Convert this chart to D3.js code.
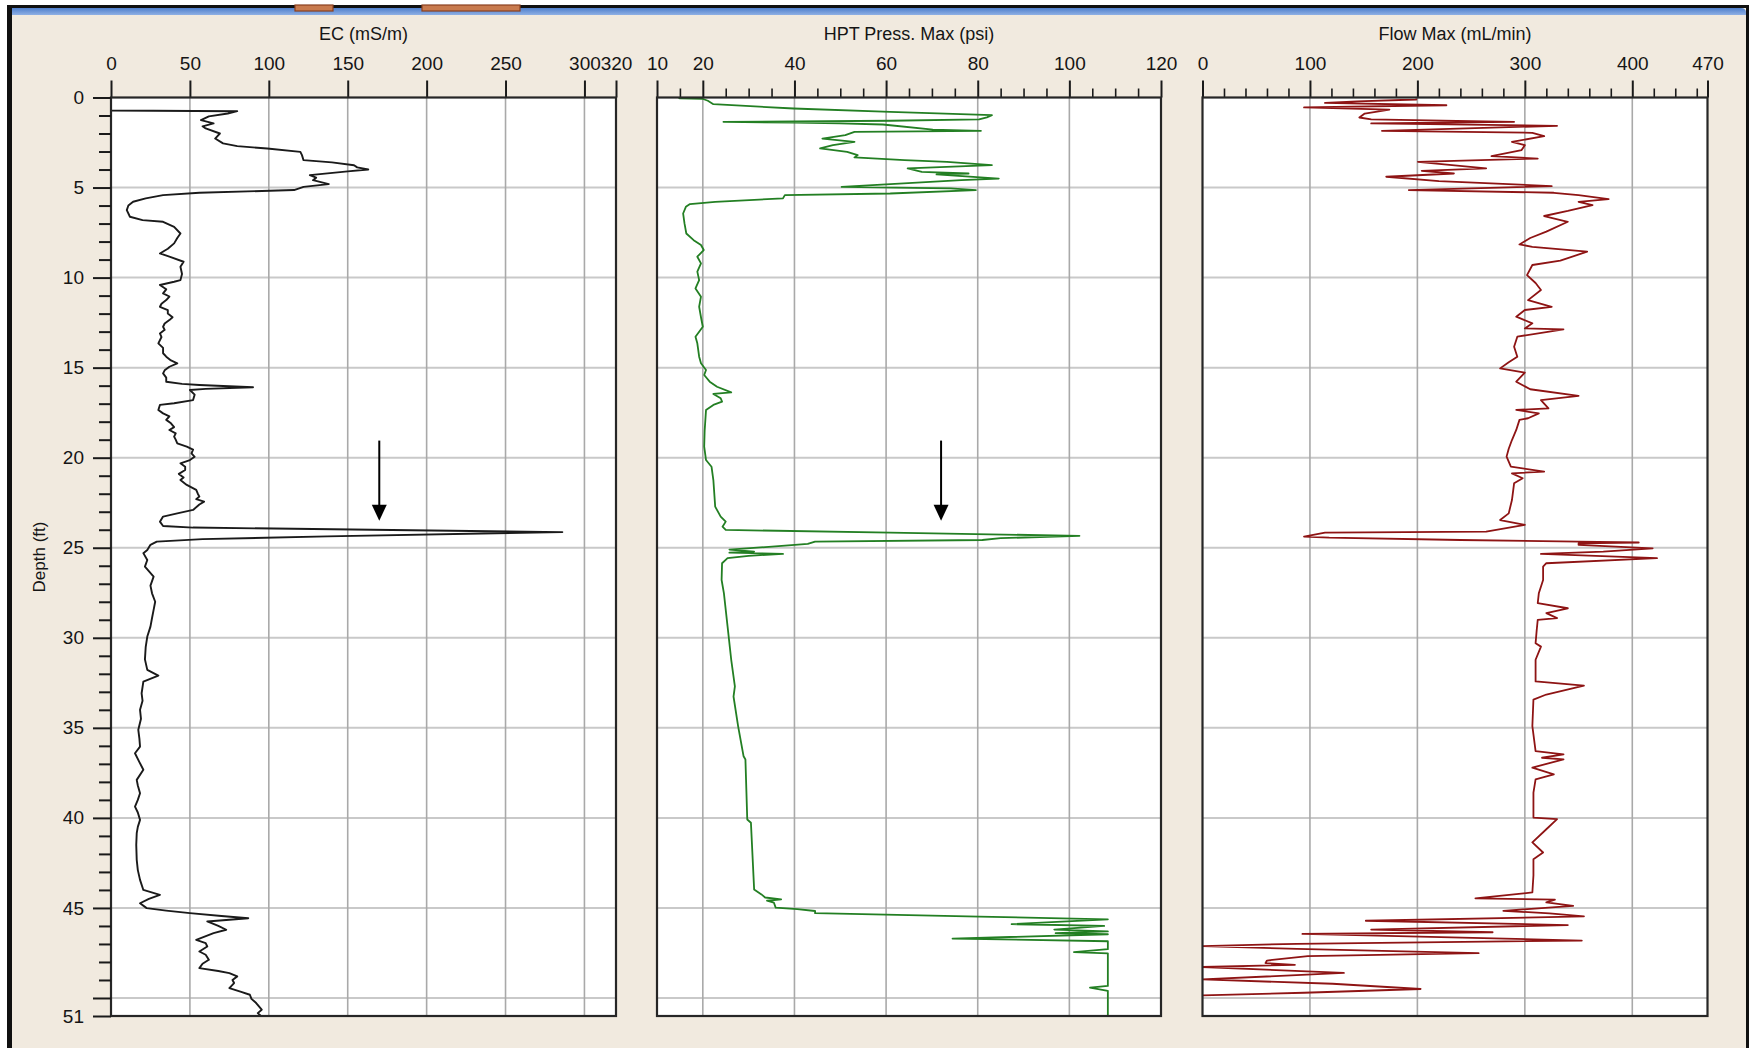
<!DOCTYPE html>
<html>
<head>
<meta charset="utf-8">
<script src="https://cdn.jsdelivr.net/npm/d3@7/dist/d3.min.js"></script>
<style>
  html, body { margin: 0; padding: 0; background: #ffffff; }
  svg { display: block; }
  text { font-family: "Liberation Sans", Arial, sans-serif; fill: #151515; }
</style>
</head>
<body>
<svg id="log" width="1749" height="1048"></svg>
<script>
// ---- Log data: [depth (ft), reading] ----
const depthLabels = [0, 5, 10, 15, 20, 25, 30, 35, 40, 45, 51];
const depthMajorTicks = [0, 5, 10, 15, 20, 25, 30, 35, 40, 45, 50, 51];
const depthGrid = [5, 10, 15, 20, 25, 30, 35, 40, 45, 50];

const ecTitle = "EC (mS/m)";
const ecTicks = [0, 50, 100, 150, 200, 250, 300, 320];
const hptTitle = "HPT Press. Max (psi)";
const hptTicks = [10, 20, 40, 60, 80, 100, 120];
const flowTitle = "Flow Max (mL/min)";
const flowTicks = [0, 100, 200, 300, 400, 470];

const ecLog = [
  [0.00, 0], [0.72, 0], [0.76, 80], [0.89, 74], [1.05, 62], [1.26, 57], [1.44, 65], [1.60, 58],
  [1.72, 60], [2.00, 69], [2.28, 66], [2.55, 71], [2.70, 80], [2.83, 99], [3.02, 120], [3.20, 121],
  [3.48, 122], [3.60, 140], [3.76, 154], [3.88, 156], [4.00, 163], [4.10, 150], [4.31, 126], [4.45, 130],
  [4.59, 128], [4.81, 138], [4.96, 122], [5.14, 116], [5.29, 56], [5.42, 33], [5.60, 22], [5.79, 14],
  [6.00, 11], [6.25, 10], [6.62, 12], [6.81, 20], [6.90, 33], [7.18, 40], [7.55, 44], [7.80, 42],
  [8.10, 40], [8.40, 36], [8.66, 31], [8.84, 37], [9.12, 46], [9.40, 44], [9.80, 45], [10.14, 44],
  [10.23, 40], [10.41, 31], [10.65, 35], [10.88, 33], [11.05, 37], [11.25, 35], [11.45, 32], [11.62, 31],
  [11.80, 36], [11.99, 36], [12.20, 39], [12.36, 37], [12.55, 34], [12.73, 33], [12.90, 34], [13.10, 31],
  [13.30, 32], [13.65, 30], [13.90, 33], [14.20, 33], [14.39, 35], [14.60, 38], [14.76, 42], [14.95, 37],
  [15.15, 34], [15.32, 33], [15.55, 35], [15.78, 35], [15.90, 45], [15.96, 56], [16.09, 90], [16.18, 60],
  [16.24, 50], [16.50, 53], [16.80, 52], [16.98, 40], [17.07, 31], [17.35, 30], [17.54, 33], [17.70, 37],
  [17.90, 35], [18.09, 38], [18.30, 40], [18.46, 37], [18.65, 41], [18.83, 40], [19.00, 41], [19.20, 42],
  [19.39, 48], [19.55, 52], [19.76, 51], [19.95, 53], [20.13, 50], [20.31, 44], [20.50, 47], [20.68, 47],
  [20.90, 43], [21.10, 46], [21.24, 44], [21.51, 48], [21.79, 54], [22.00, 55], [22.16, 56], [22.30, 54],
  [22.44, 59], [22.60, 56], [22.90, 52], [23.09, 42], [23.27, 33], [23.55, 31], [23.79, 33], [23.88, 52],
  [24.13, 286], [24.37, 137], [24.52, 58], [24.66, 29], [24.84, 25], [25.12, 23], [25.30, 20.5], [25.68, 23],
  [26.05, 21.5], [26.60, 27], [27.10, 25], [27.53, 26], [28.00, 28], [28.45, 27], [28.90, 26], [29.38, 25],
  [29.93, 23], [30.50, 22], [31.20, 21.5], [31.78, 23], [32.10, 30], [32.43, 20.5], [33.08, 19.4], [33.50, 20],
  [34.00, 18.4], [34.50, 19], [35.11, 17.3], [35.60, 18], [36.04, 18.4], [36.41, 15.2], [36.90, 18], [37.33, 20.5],
  [37.89, 16.3], [38.20, 17], [38.63, 18.4], [39.00, 17], [39.37, 15.2], [39.70, 17], [40.11, 18.4], [40.50, 17],
  [40.85, 16.3], [41.50, 16], [42.33, 16.3], [42.90, 17], [43.44, 18.4], [44.00, 20.5], [44.27, 31], [44.50, 24],
  [44.74, 18.4], [45.01, 22.6], [45.15, 35], [45.29, 50], [45.45, 70], [45.57, 87], [45.75, 61], [46.00, 68],
  [46.21, 73], [46.40, 65], [46.77, 54], [46.95, 60], [47.14, 61], [47.42, 56], [47.60, 60], [47.88, 62],
  [48.10, 58], [48.34, 56], [48.50, 68], [48.62, 75], [48.80, 80], [49.00, 77], [49.17, 78], [49.45, 75],
  [49.65, 82], [49.82, 88], [50.05, 89], [50.28, 92], [50.65, 95.5], [50.84, 93], [51.00, 95]
];

const hptLog = [
  [0.00, 14.7], [0.05, 15], [0.07, 19.9], [0.18, 21.1], [0.37, 22.3], [0.61, 39.8], [0.80, 60.9], [0.98, 83.1],
  [1.10, 82], [1.22, 80.3], [1.29, 60.9], [1.35, 24.5], [1.40, 40], [1.44, 49.9], [1.50, 59.3], [1.78, 70.2],
  [1.85, 80.7], [1.91, 53.1], [2.09, 51.1], [2.28, 46.1], [2.46, 53.1], [2.65, 48.4], [2.83, 45.6], [3.02, 51.5],
  [3.20, 53.8], [3.33, 53.1], [3.48, 64], [3.57, 73.3], [3.76, 83.1], [3.94, 64.7], [4.13, 67.8], [4.22, 78.0],
  [4.27, 71], [4.50, 84.6], [4.59, 76.4], [4.96, 50.3], [5.05, 74.1], [5.14, 79.6], [5.33, 60.9], [5.42, 37.9],
  [5.60, 37.5], [5.79, 22.7], [5.92, 17.2], [6.07, 16.3], [6.44, 15.7], [6.99, 16.0], [7.55, 16.4], [7.92, 18.0],
  [8.19, 19.6], [8.47, 20.2], [8.84, 18.8], [9.21, 19.6], [9.67, 18.8], [10.14, 19.2], [10.60, 18.4], [11.06, 19.6],
  [11.62, 19.2], [12.20, 19.6], [12.73, 20], [13.28, 18.4], [13.65, 18.8], [14.39, 19.2], [14.76, 19.6], [15.13, 20.7],
  [15.41, 20.3], [15.78, 21.5], [16.06, 23.1], [16.37, 26.2], [16.46, 22.3], [16.70, 23.9], [16.89, 24.2], [17.07, 22.3],
  [17.35, 20.7], [18.50, 20.4], [19.39, 20.3], [20.13, 20.7], [20.50, 21.9], [21.24, 22.3], [22.72, 22.7], [23.27, 23.9],
  [23.55, 25], [23.83, 24.3], [24.01, 25], [24.16, 60.9], [24.34, 102.2], [24.47, 85], [24.57, 81], [24.66, 44.5],
  [24.79, 42.9], [24.94, 35.1], [25.10, 25.8], [25.21, 31.2], [25.27, 25.8], [25.34, 37.5], [25.45, 30], [25.58, 25.4],
  [25.86, 24.2], [26.79, 24.1], [27.52, 24.6], [29.37, 25.4], [31.22, 26.2], [32.70, 27], [33.26, 26.7], [34.90, 27.7],
  [36.58, 28.9], [36.76, 29.3], [40.09, 29.7], [40.27, 30.5], [43.97, 31.2], [44.25, 32.8], [44.42, 33.6], [44.53, 37.1],
  [44.60, 34], [44.70, 35.5], [44.98, 35.9], [45.07, 40.6], [45.17, 44.5], [45.29, 44.5], [45.48, 80.3], [45.63, 108.4],
  [45.90, 87.4], [46.00, 107.6], [46.20, 96.7], [46.30, 108.4], [46.40, 97], [46.46, 108.4], [46.70, 74.5], [46.85, 108.4],
  [47.29, 108.4], [47.45, 101], [47.52, 108.4], [49.33, 108.4], [49.42, 104.5], [49.60, 108.4], [51.00, 108.4]
];

const flowLog = [
  [0.05, 199], [0.11, 199], [0.22, 144], [0.30, 114], [0.43, 227], [0.55, 94.5], [0.67, 174], [0.89, 151],
  [1.11, 146], [1.22, 157], [1.35, 290], [1.44, 157], [1.57, 330], [1.85, 167], [1.96, 307], [2.15, 318],
  [2.46, 288], [2.65, 300], [2.92, 297], [3.26, 269], [3.39, 312], [3.57, 200.5], [3.94, 264], [4.07, 204],
  [4.22, 234], [4.40, 171], [4.64, 220], [4.92, 325], [5.14, 192], [5.29, 327], [5.42, 350], [5.64, 378],
  [5.79, 350], [5.97, 363], [6.30, 340], [6.58, 318], [6.90, 340], [7.45, 320], [7.80, 305], [8.16, 295],
  [8.29, 307], [8.56, 358], [9.06, 333], [9.30, 307], [9.86, 302], [10.30, 310], [10.69, 315], [11.25, 303],
  [11.62, 325], [11.80, 300], [12.17, 292], [12.54, 307], [12.82, 300], [12.87, 336], [13.28, 293], [13.84, 290],
  [14.39, 293], [14.70, 285], [15.04, 277], [15.28, 300], [15.78, 292], [16.20, 305], [16.57, 350], [16.80, 315],
  [17.26, 322], [17.35, 292], [17.54, 313], [17.81, 303], [17.90, 295], [18.46, 292], [19.02, 288], [19.50, 285],
  [19.94, 283], [20.50, 287], [20.77, 318], [20.87, 288], [21.14, 298], [21.42, 290], [22.35, 288], [23.09, 285],
  [23.46, 277], [23.73, 300], [24.10, 264], [24.16, 114], [24.38, 94.5], [24.44, 118], [24.57, 240], [24.66, 350],
  [24.71, 406], [24.76, 350], [24.84, 350], [25.03, 419], [25.21, 373], [25.34, 315], [25.58, 423], [25.86, 320],
  [26.05, 317], [26.79, 317], [27.53, 313], [28.08, 312], [28.36, 340], [28.63, 320], [28.91, 330], [29.00, 312],
  [29.60, 311], [30.30, 310], [30.49, 315], [31.22, 310], [32.42, 310], [32.66, 355], [33.15, 320], [33.43, 308],
  [34.90, 307], [36.29, 310], [36.47, 336], [36.66, 316], [36.75, 336], [37.21, 307], [37.58, 327], [37.86, 310],
  [38.60, 308], [39.98, 308], [40.07, 330], [40.63, 320], [41.36, 307], [41.92, 317], [42.29, 308], [43.20, 308],
  [44.14, 307], [44.47, 254], [44.54, 328], [44.69, 320], [44.88, 345], [45.16, 280], [45.30, 323], [45.47, 355],
  [45.71, 152], [45.95, 340], [46.20, 157], [46.35, 270], [46.44, 93], [46.81, 353], [46.99, 88], [47.12, 0],
  [47.27, 88], [47.51, 257], [47.68, 98], [47.92, 60], [48.06, 58.7], [48.16, 86], [48.28, 0], [48.61, 131.6],
  [48.97, 0], [49.21, 121], [49.50, 203], [49.71, 94.5], [49.85, 0]
];

// Arrow annotations: reading, start depth, tip depth
const ecArrow = [170, 19.05, 23.5];
const hptArrow = [72, 19.05, 23.5];

// ---- Drawing ----
const svg = d3.select("#log");
const W = 1749, H = 1048;

// window chrome
svg.append("rect").attr("x", 0).attr("y", 0).attr("width", W).attr("height", H).attr("fill", "#ffffff");
svg.append("rect").attr("x", 7).attr("y", 5).attr("width", W - 7).attr("height", H - 5).attr("fill", "#101010");
svg.append("rect").attr("x", 12).attr("y", 8).attr("width", W - 15).attr("height", H - 8).attr("fill", "#f1eadf");
const grad = svg.append("defs").append("linearGradient").attr("id", "bar").attr("x1", 0).attr("y1", 0).attr("x2", 0).attr("y2", 1);
grad.append("stop").attr("offset", "0%").attr("stop-color", "#4f7fcc");
grad.append("stop").attr("offset", "100%").attr("stop-color", "#8fb0e4");
svg.append("path").attr("d", `M12,8 H${W - 8} Q${W - 3},8 ${W - 3},13 V15 H12 Z`).attr("fill", "url(#bar)");
[[295, 333], [422, 520]].forEach(([a, b]) => {
  svg.append("rect").attr("x", a).attr("y", 5).attr("width", b - a).attr("height", 6)
    .attr("fill", "#c87a4e").attr("stroke", "#8a4020").attr("stroke-width", 1.2);
});

const y = d3.scaleLinear().domain([0, 51]).range([97.5, 1016]);

const panels = [
  { title: ecTitle, domain: [0, 320], range: [111, 616], majors: ecTicks, minorStep: null,
    data: ecLog, color: "#1a1a1a", width: 1.9, arrow: ecArrow },
  { title: hptTitle, domain: [10, 120], range: [657, 1161], majors: hptTicks, minorStep: 5,
    data: hptLog, color: "#237f23", width: 1.8, arrow: hptArrow },
  { title: flowTitle, domain: [0, 470], range: [1202.5, 1707.5], majors: flowTicks, minorStep: 20,
    data: flowLog, color: "#8e1414", width: 1.8, arrow: null }
];

const defs = svg.select("defs");

panels.forEach((p, i) => {
  const x = d3.scaleLinear().domain(p.domain).range(p.range);
  const [x0, x1] = p.range;
  const [y0, y1] = y.range();
  const g = svg.append("g");

  g.append("rect").attr("x", x0).attr("y", y0).attr("width", x1 - x0).attr("height", y1 - y0).attr("fill", "#ffffff");

  // horizontal depth grid
  g.selectAll(".hg").data(depthGrid).join("line")
    .attr("x1", x0).attr("x2", x1).attr("y1", d => y(d)).attr("y2", d => y(d))
    .attr("stroke", "#c9c9c9").attr("stroke-width", 2);

  // vertical grid at interior majors
  const inner = p.majors.filter(v => v > p.domain[0] && v < p.domain[1]);
  g.selectAll(".vg").data(inner).join("line")
    .attr("x1", d => x(d)).attr("x2", d => x(d)).attr("y1", y0).attr("y2", y1)
    .attr("stroke", "#a9a9a9").attr("stroke-width", 1.6);

  // minor ticks
  if (p.minorStep) {
    const minors = d3.range(p.domain[0], p.domain[1], p.minorStep).filter(v => !p.majors.includes(v));
    const minorAxis = d3.axisTop(x).tickValues(minors).tickSize(9).tickFormat("");
    const ma = g.append("g").attr("transform", `translate(0,${y0})`).call(minorAxis);
    ma.select(".domain").remove();
    ma.selectAll("line").attr("stroke", "#1a1a1a").attr("stroke-width", 1.6);
  }

  // major ticks and labels
  const axis = d3.axisTop(x).tickValues(p.majors).tickSize(17).tickPadding(11).tickFormat(d3.format("d"));
  const ax = g.append("g").attr("transform", `translate(0,${y0})`).call(axis);
  ax.select(".domain").remove();
  ax.selectAll("line").attr("stroke", "#1a1a1a").attr("stroke-width", 2);
  ax.selectAll("text").attr("font-size", 19).attr("fill", "#151515")
    .attr("font-family", "'Liberation Sans', Arial, sans-serif");

  g.append("text").attr("x", (x0 + x1) / 2).attr("y", 40).attr("text-anchor", "middle")
    .attr("font-size", 18).text(p.title);

  // curve
  const clipId = "clip" + i;
  defs.append("clipPath").attr("id", clipId).append("rect")
    .attr("x", x0).attr("y", y0).attr("width", x1 - x0).attr("height", y1 - y0);
  const line = d3.line().x(d => x(d[1])).y(d => y(d[0]));
  g.append("path").datum(p.data).attr("d", line).attr("fill", "none")
    .attr("stroke", p.color).attr("stroke-width", p.width).attr("stroke-linejoin", "round")
    .attr("clip-path", `url(#${clipId})`);

  // frame
  g.append("rect").attr("x", x0).attr("y", y0).attr("width", x1 - x0).attr("height", y1 - y0)
    .attr("fill", "none").attr("stroke", "#262626").attr("stroke-width", 2.2);

  // arrow marker
  if (p.arrow) {
    const [v, d0, d1] = p.arrow;
    const ax0 = x(v), top = y(d0), tip = y(d1);
    g.append("line").attr("x1", ax0).attr("x2", ax0).attr("y1", top).attr("y2", tip - 12)
      .attr("stroke", "#000").attr("stroke-width", 2);
    g.append("path").attr("d", `M${ax0 - 7.5},${tip - 16} L${ax0 + 7.5},${tip - 16} L${ax0},${tip} Z`)
      .attr("fill", "#000");
  }
});

// depth axis on the left of the first track
const depthAxis = d3.axisLeft(y).tickValues(depthMajorTicks).tickSize(18).tickPadding(9)
  .tickFormat(d => depthLabels.includes(d) ? d : "");
const da = svg.append("g").attr("transform", "translate(111,0)").call(depthAxis);
da.select(".domain").remove();
da.selectAll("line").attr("stroke", "#1a1a1a").attr("stroke-width", 2);
da.selectAll("text").attr("font-size", 19).attr("fill", "#151515")
  .attr("font-family", "'Liberation Sans', Arial, sans-serif");
const minorDepth = d3.range(1, 51).filter(d => !depthMajorTicks.includes(d));
const dm = svg.append("g").attr("transform", "translate(111,0)")
  .call(d3.axisLeft(y).tickValues(minorDepth).tickSize(12).tickFormat(""));
dm.select(".domain").remove();
dm.selectAll("line").attr("stroke", "#1a1a1a").attr("stroke-width", 2);

svg.append("text").attr("transform", "translate(39,557) rotate(-90)")
  .attr("text-anchor", "middle").attr("dominant-baseline", "central")
  .attr("font-size", 17).text("Depth (ft)");
</script>
</body>
</html>
